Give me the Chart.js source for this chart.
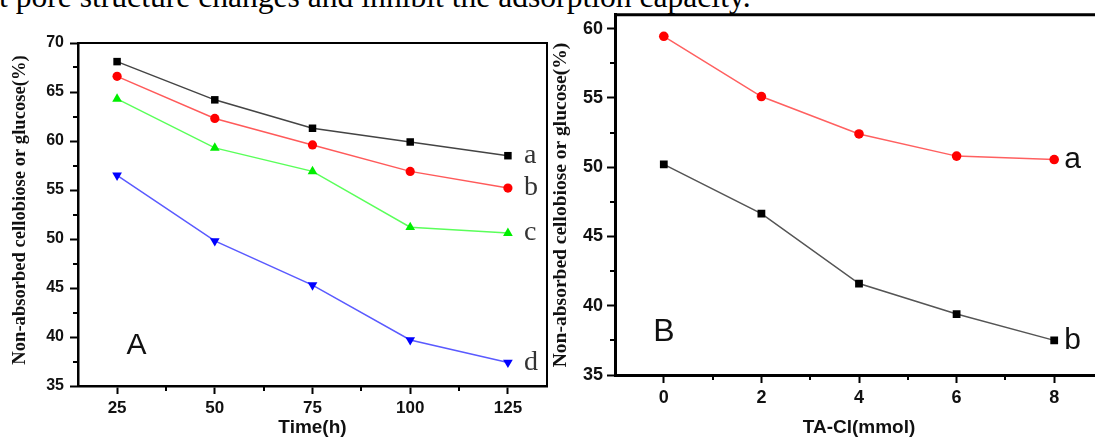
<!DOCTYPE html>
<html><head><meta charset="utf-8">
<script src="https://cdn.jsdelivr.net/npm/chart.js@4.4.0/dist/chart.umd.min.js"></script>
<style>
html,body{margin:0;padding:0;width:1095px;height:439px;overflow:hidden;background:#fff;}
#txt{position:absolute;left:-1px;top:-19px;font-family:"Liberation Serif","Times New Roman",serif;font-size:31.6px;line-height:31px;white-space:nowrap;color:#000;}
#ca{position:absolute;left:0;top:0;}
#cb{position:absolute;left:540px;top:0;}
</style></head><body>
<div id="txt">t pore structure changes and inhibit the adsorption capacity.</div>
<canvas id="ca" width="560" height="439"></canvas>
<canvas id="cb" width="570" height="439"></canvas>
<script>
// ---- Panel A data ----
const timeH = [25, 50, 75, 100, 125];
const seriesA_a = [68.1, 64.2, 61.3, 59.9, 58.5];
const seriesA_b = [66.6, 62.3, 59.6, 56.9, 55.2];
const seriesA_c = [64.3, 59.3, 56.9, 51.2, 50.6];
const seriesA_d = [56.5, 49.8, 45.3, 39.7, 37.4];
const namesA = ['a', 'b', 'c', 'd'];
const xTicksA = [25, 50, 75, 100, 125];
const xMinorA = [37.5, 62.5, 87.5, 112.5];
const yTicksA = [35, 40, 45, 50, 55, 60, 65, 70];
const yMinorA = [37.5, 42.5, 47.5, 52.5, 57.5, 62.5, 67.5];
const panelA = {text: 'A', x: 30, y: 39.1};

// ---- Panel B data ----
const taCl = [0, 2, 4, 6, 8];
const seriesB_a = [59.45, 55.1, 52.4, 50.8, 50.55];
const seriesB_b = [50.2, 46.65, 41.6, 39.4, 37.5];
const namesB = ['a', 'b'];
const xTicksB = [0, 2, 4, 6, 8];
const xMinorB = [1, 3, 5, 7];
const yTicksB = [35, 40, 45, 50, 55, 60];
const yMinorB = [37.5, 42.5, 47.5, 52.5, 57.5];
const panelB = {text: 'B', x: 0, y: 38.1};

const yTitle = 'Non-absorbed cellobiose or glucose(%)';

const pts = (xs, ys) => xs.map((x, i) => ({x, y: ys[i]}));

const extras = {
  id: 'extras',
  afterDraw(chart, args, o) {
    const ctx = chart.ctx, a = chart.chartArea, xs = chart.scales.x, ys = chart.scales.y;
    ctx.save();
    ctx.strokeStyle = '#000';
    ctx.lineWidth = o.frameWidth;
    ctx.beginPath();
    ctx.moveTo(a.left, a.top); ctx.lineTo(a.right, a.top); ctx.lineTo(a.right, a.bottom);
    ctx.stroke();
    ctx.lineWidth = 2;
    ctx.beginPath();
    o.xMinor.forEach(v => { const p = Math.round(xs.getPixelForValue(v)); ctx.moveTo(p, a.bottom); ctx.lineTo(p, a.bottom + o.minorLen); });
    o.yMinor.forEach(v => { const p = Math.round(ys.getPixelForValue(v)); ctx.moveTo(a.left, p); ctx.lineTo(a.left - o.minorLen, p); });
    ctx.stroke();
    // y title
    ctx.save();
    ctx.translate(o.yTitleX, o.yTitleY);
    ctx.rotate(-Math.PI / 2);
    ctx.font = o.yTitleFont; ctx.fillStyle = '#111';
    ctx.textAlign = 'center'; ctx.textBaseline = 'middle';
    ctx.fillText(yTitle, 0, 0);
    ctx.restore();
    // end labels
    ctx.font = o.labelFont; ctx.fillStyle = o.labelColor;
    ctx.textAlign = 'left'; ctx.textBaseline = 'middle';
    chart.data.datasets.forEach((ds, i) => {
      const meta = chart.getDatasetMeta(i);
      const el = meta.data[meta.data.length - 1];
      ctx.fillText(o.names[i], el.x + o.labelDx, el.y + o.labelDy);
    });
    // panel label
    ctx.font = o.panelFont; ctx.fillStyle = '#111'; ctx.textAlign = 'center';
    ctx.fillText(o.panel.text, xs.getPixelForValue(o.panel.x), ys.getPixelForValue(o.panel.y));
    ctx.restore();
  }
};

const SANS = '"Liberation Sans", Arial, sans-serif';

function makeChart(id, cfg) {
  return new Chart(document.getElementById(id), {
    type: 'line',
    data: {datasets: cfg.datasets},
    options: {
      responsive: false, animation: false, devicePixelRatio: 1,
      layout: {padding: cfg.padding},
      plugins: {legend: {display: false}, tooltip: {enabled: false}, extras: cfg.extras},
      elements: {line: {tension: 0}},
      scales: {
        x: {
          type: 'linear', min: cfg.xMin, max: cfg.xMax,
          afterBuildTicks: s => { s.ticks = cfg.xTicks.map(v => ({value: v})); },
          afterFit: s => { s.height = cfg.xHeight; },
          border: {display: true, color: '#000', width: cfg.axisWidth},
          grid: {drawOnChartArea: false, drawTicks: true, tickLength: 8, tickWidth: 2, tickColor: '#000'},
          ticks: {color: '#111', padding: cfg.xTickPad, maxRotation: 0, autoSkip: false,
                  font: {family: SANS, weight: 'bold', size: cfg.xTickSize, lineHeight: 1.2}},
          title: {display: true, text: cfg.xTitle, color: '#111', padding: {top: 0, bottom: cfg.xTitlePad},
                  font: {family: SANS, weight: 'bold', size: cfg.xTitleSize, lineHeight: 1.2}}
        },
        y: {
          type: 'linear', min: cfg.yMin, max: cfg.yMax,
          afterBuildTicks: s => { s.ticks = cfg.yTicks.map(v => ({value: v})); },
          afterFit: s => { s.width = cfg.yWidth; },
          border: {display: true, color: '#000', width: cfg.axisWidth},
          grid: {drawOnChartArea: false, drawTicks: true, tickLength: 8, tickWidth: 2, tickColor: '#000'},
          ticks: {color: '#111', padding: cfg.yTickPad, autoSkip: false,
                  font: {family: SANS, weight: 'bold', size: cfg.yTickSize}},
          title: {display: false}
        }
      }
    },
    plugins: [extras]
  });
}

function ds(data, line, mark, style, r, rot) {
  return {data, borderColor: line, borderWidth: 1.5, pointBackgroundColor: mark, pointBorderColor: mark,
          pointBorderWidth: 0, pointStyle: style, pointRadius: r, pointRotation: rot || 0};
}

makeChart('ca', {
  datasets: [
    ds(pts(timeH, seriesA_a), '#444', '#000', 'rect', 5.3),
    ds(pts(timeH, seriesA_b), '#ff5a5a', '#ff0000', 'circle', 4.6),
    ds(pts(timeH, seriesA_c), '#5aff5a', '#00ee00', 'triangle', 5.6),
    ds(pts(timeH, seriesA_d), '#5a5aff', '#0000ff', 'triangle', 5.6, 180)
  ],
  padding: {top: 43, right: 13, left: 0, bottom: 0},
  xMin: 15, xMax: 135, yMin: 35, yMax: 70,
  xTicks: xTicksA, yTicks: yTicksA,
  xHeight: 53, yWidth: 78, axisWidth: 2.5,
  xTickPad: 4, yTickPad: 6, xTickSize: 17, yTickSize: 16,
  xTitle: 'Time(h)', xTitlePad: 0, xTitleSize: 19,
  extras: {frameWidth: 2, xMinor: xMinorA, yMinor: yMinorA, minorLen: 5,
           yTitleX: 20, yTitleY: 210, yTitleFont: 'bold 18.6px "Liberation Serif"',
           names: namesA, labelFont: '28px "Liberation Serif"', labelColor: '#333', labelDx: 16, labelDy: 0,
           panel: panelA, panelFont: '30px "Liberation Sans"'}
});

makeChart('cb', {
  datasets: [
    ds(pts(taCl, seriesB_a), '#ff6060', '#ff0000', 'circle', 4.8),
    ds(pts(taCl, seriesB_b), '#555', '#000', 'rect', 5.5)
  ],
  padding: {top: 14, right: 7, left: 0, bottom: 0},
  xMin: -1, xMax: 9, yMin: 35, yMax: 61,
  xTicks: xTicksB, yTicks: yTicksB,
  xHeight: 64, yWidth: 75, axisWidth: 3,
  xTickPad: 4, yTickPad: 4, xTickSize: 18, yTickSize: 18,
  xTitle: 'TA-Cl(mmol)', xTitlePad: 0, xTitleSize: 19,
  extras: {frameWidth: 3, xMinor: xMinorB, yMinor: yMinorB, minorLen: 5,
           yTitleX: 21, yTitleY: 205, yTitleFont: 'bold 19.5px "Liberation Serif"',
           names: namesB, labelFont: '30px "Liberation Sans"', labelColor: '#111', labelDx: 10, labelDy: 0,
           panel: panelB, panelFont: '32px "Liberation Sans"'}
});
</script>
</body></html>
